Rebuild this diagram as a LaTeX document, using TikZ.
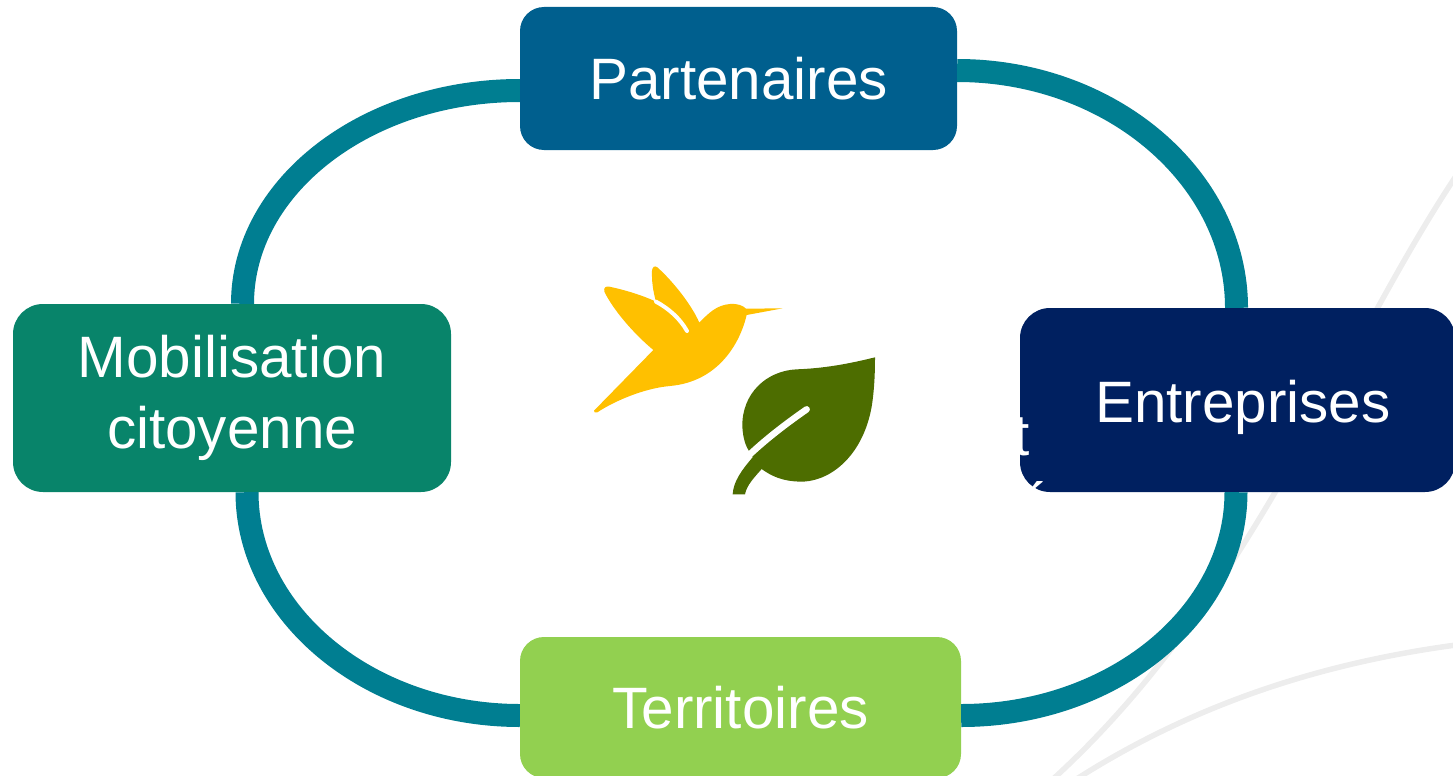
\documentclass[tikz,border=0pt]{standalone}
\usepackage{fontspec}
\setmainfont{Liberation Sans}
\definecolor{ringc}{HTML}{007E91}
\definecolor{partc}{HTML}{005F8E}
\definecolor{mobc}{HTML}{08846A}
\definecolor{entc}{HTML}{002060}
\definecolor{terc}{HTML}{92D050}
\definecolor{birdc}{HTML}{FFC000}
\definecolor{leafc}{HTML}{4D6D00}
\definecolor{swoosh}{HTML}{EDEDED}
\tikzset{
  card/.style={rounded corners=#1, inner sep=0pt, align=center, text=white,
    font=\fontsize{58.4}{71}\selectfont},
  ring/.style={draw=ringc, line width=23pt, line cap=butt},
  greyline/.style={draw=swoosh, line width=5.5pt}
}
\begin{document}
\begin{tikzpicture}[x=1pt,y=-1pt]
\useasboundingbox (0,0) rectangle (1453,776);
% background swooshes
\draw[greyline] (1456,176) .. controls (1340,350) and (1250,600) .. (1052,780);
\draw[greyline] (1456,645) .. controls (1330,662) and (1200,700) .. (1075,780);
% nodes
\node[card=24pt, fill=partc, minimum width=437pt, minimum height=143pt] (part) at (738.5,78.5) {\raisebox{-4pt}{Partenaires}};
\node[card=30pt, fill=mobc, minimum width=438pt, minimum height=188pt] (mob) at (232,398) {\raisebox{-8pt}{Mobilisation}\\\raisebox{-8pt}{citoyenne}};
\node[card=30pt, fill=entc, minimum width=435pt, minimum height=184pt] (ent) at (1237.5,400) {};
\node[card=24pt, fill=terc, minimum width=441pt, minimum height=141pt] (ter) at (740.5,707.5) {\raisebox{-5pt}{Territoires}};
% text hidden behind, only visible over the dark card
\node[font=\fontsize{58.4}{71}\selectfont, text=white, inner sep=0pt, anchor=base] (hidt) at (1022,455) {t};
\node[font=\fontsize{58.4}{71}\selectfont, text=white, inner sep=0pt, anchor=base] (hide) at (1035,524) {é};
\node[font=\fontsize{58.4}{71}\selectfont, text=white, inner sep=0pt, anchor=base] (entt) at (1243,422) {Entreprises};
% ring
\draw[ring] ([yshift=-12pt]part.west) .. controls +(-153,0) and (242.5,186) .. ([xshift=10.5pt]mob.north);
\draw[ring] ([yshift=8pt]part.east) .. controls +(154,0) and (1236.5,178) .. ([xshift=-1pt]ent.north);
\draw[ring] ([xshift=-1.5pt]ent.south) .. controls (1236,615) and (1112,715.5) .. ([yshift=-8pt]ter.east);
\draw[ring] ([xshift=15pt]mob.south) .. controls (247,615) and (370,715.5) .. ([yshift=-8pt]ter.west);
% hummingbird
\begin{scope}[x=0.33333pt,y=-0.33333pt,shift={(570pt,-250pt)}]
\fill[birdc] (72,482) -- (250,300)
  .. controls (190,250) and (130,180) .. (103,125)
  .. controls (100,112) and (108,108) .. (118,110)
  .. controls (165,120) and (215,135) .. (258,155)
  .. controls (248,120) and (245,90) .. (246,62)
  .. controls (247,50) and (255,46) .. (262,52)
  .. controls (310,95) and (365,165) .. (388,218)
  .. controls (415,190) and (440,165) .. (480,162)
  .. controls (505,160) and (520,168) .. (528,176)
  -- (638,175) -- (530,195)
  .. controls (510,280) and (445,395) .. (300,408)
  .. controls (220,415) and (130,455) .. (82,487) .. controls (76,489) and (70,486) .. (72,482) -- cycle;
\draw[white, line width=4pt, line cap=round] (258,155) .. controls (295,175) and (330,205) .. (351,243);
% leaf
\fill[leafc] (915,322)
  .. controls (830,343) and (760,355) .. (680,358)
  .. controls (590,362) and (515,430) .. (517,530)
  .. controls (519,565) and (527,590) .. (540,607)
  -- (548,622)
  .. controls (515,660) and (490,695) .. (488,733)
  -- (525,733)
  .. controls (530,705) and (555,680) .. (575,657)
  .. controls (620,690) and (660,695) .. (700,695)
  .. controls (790,690) and (880,610) .. (905,470)
  .. controls (913,420) and (915,370) .. (915,322) -- cycle;
\draw[white, line width=6.5pt, line cap=round] (710,478) .. controls (650,520) and (590,565) .. (530,622);
\end{scope}
\end{tikzpicture}
\end{document}
